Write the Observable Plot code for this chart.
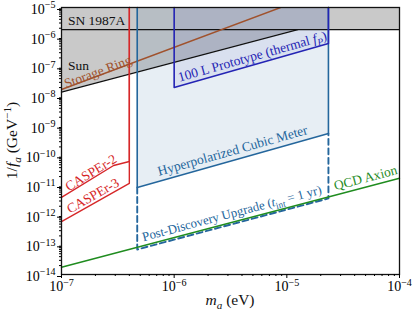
<!DOCTYPE html>
<html><head><meta charset="utf-8">
<script src="https://cdn.jsdelivr.net/npm/d3@7"></script>
<script src="https://cdn.jsdelivr.net/npm/@observablehq/plot@0.6"></script>
<style>body{margin:0;background:#fff}</style>
</head><body><div id="chart"></div>
<script>
// ---- data (m_a in eV, 1/f_a in GeV^-1) ----
const xDomain = [1e-7, 1e-4];
const yDomain = [1e-14, 1e-5];
const snBound = 1.8e-6;
const sunLine = [[1e-7, 1.4e-8], [1.25e-5, 1.8e-6]];
const storageRing = [[1e-7, 1.72e-8], [8.8e-6, 1e-5]];
const casper2 = [[1e-7, 3.95e-12], [2.9e-7, 4.73e-11], [4.0e-7, 6.45e-11], [4.0e-7, 1e-5]];
const casper3 = [[1e-7, 6.1e-13], [4.0e-7, 1.17e-11], [4.0e-7, 1e-5]];
const cubicBottom = [[4.7e-7, 8.6e-12], [2.34e-5, 5.66e-10]];
const upgradeBottom = [[4.7e-7, 6.98e-14], [2.34e-5, 3.66e-12]];
const protoBottom = [[1e-6, 2.0e-8], [2.34e-5, 6.1e-7]];
const qcdLine = [[1e-7, 1.75e-14], [1e-4, 1.75e-11]];
const xTicks = [1e-7, 1e-6, 1e-5, 1e-4];
const yTicks = [1e-14, 1e-13, 1e-12, 1e-11, 1e-10, 1e-9, 1e-8, 1e-7, 1e-6, 1e-5];

const colors = {
  gray: "#c9c9c9", storage: "#a0522d", casper: "#d62728",
  cubic: "#24669c", proto: "#2424b4", qcd: "#1f8c1f"
};

const W = 416, H = 315, mL = 61, mR = 17, mT = 7, mB = 41;
const FS = 13.5;
const sx = Plot.scale({x: {type: "log", domain: xDomain, range: [mL, W - mR]}});
const sy = Plot.scale({y: {type: "log", domain: yDomain, range: [H - mB, mT]}});
const angle = seg => Math.atan2(sy.apply(seg[1][1]) - sy.apply(seg[0][1]), sx.apply(seg[1][0]) - sx.apply(seg[0][0])) * 180 / Math.PI;

const startLabels = [
  {text: "SN 1987A", x: 1.14e-7, y: 3.65e-6, color: "#111"},
  {text: "Sun", x: 1.14e-7, y: 1.11e-7, color: "#111"}
];
const midLabels = [
  {text: "Storage Ring", x: 2.1e-7, y: 6.8e-8, size: FS, color: colors.storage, rotate: angle(storageRing)},
  {text: "CASPEr-2", x: 1.83e-7, y: 2.7e-11, size: FS, color: colors.casper, rotate: angle(casper2.slice(0, 2))},
  {text: "CASPEr-3", x: 1.9e-7, y: 4.5e-12, size: FS, color: colors.casper, rotate: angle(casper3.slice(0, 2))},
  {text: "100 L Prototype (thermal fP)", x: 4.95e-6, y: 2.23e-7, size: FS, color: colors.proto, rotate: angle(protoBottom),
   parts: [["100 L Prototype (thermal ", ""], ["f", "i"], ["P", "isub"], [")", ""]]},
  {text: "Hyperpolarized Cubic Meter", x: 3.3e-6, y: 1.5e-10, size: FS, color: colors.cubic, rotate: angle(cubicBottom)},
  {text: "Post-Discovery Upgrade (tint = 1 yr)", x: 3.25e-6, y: 1.15e-12, size: 12.8, color: colors.cubic, rotate: angle(upgradeBottom),
   parts: [["Post-Discovery Upgrade (", ""], ["t", "i"], ["int", "sub"], [" = 1 yr)", ""]]},
  {text: "QCD Axion", x: 5.0e-5, y: 1.8e-11, size: FS, color: colors.qcd, rotate: angle(qcdLine)}
];

const minor = decades => decades.slice(0, -1).flatMap(d => [2,3,4,5,6,7,8,9].map(k => d * k));
const yTop = () => yDomain[1];
const X = d => d[0], Y = d => d[1];
const box = (bottom) => [[bottom[0][0], yDomain[1]], ...bottom, [bottom[bottom.length-1][0], yDomain[1]]];
const upgradeOutline = [[upgradeBottom[0][0], cubicBottom[0][1]], ...upgradeBottom, [upgradeBottom[1][0], cubicBottom[1][1]]];
const sup = d => "10^" + String(Math.round(Math.log10(d))).replace("-", "\u2212");

const plot = Plot.plot({
  width: W, height: H, marginLeft: mL, marginRight: mR, marginTop: mT, marginBottom: mB,
  x: {type: "log", domain: xDomain},
  y: {type: "log", domain: yDomain},
  style: {fontFamily: "'Liberation Serif', serif", fontSize: "13px", background: "white", overflow: "visible"},
  marks: [
    Plot.areaY(sunLine, {x: X, y1: Y, y2: yTop, fill: colors.gray}),
    Plot.areaY(xDomain, {x: d => d, y1: () => snBound, y2: yTop, fill: colors.gray}),
    Plot.areaY(cubicBottom, {x: X, y1: Y, y2: yTop, fill: colors.cubic, fillOpacity: 0.11}),
    Plot.areaY(protoBottom, {x: X, y1: Y, y2: yTop, fill: colors.proto, fillOpacity: 0.07}),
    Plot.ruleY([snBound], {stroke: "#111", strokeWidth: 1.4}),
    Plot.line(sunLine, {x: X, y: Y, stroke: "#111", strokeWidth: 1.4}),
    Plot.line(storageRing, {x: X, y: Y, stroke: colors.storage, strokeWidth: 1.4, clip: true}),
    Plot.line(casper2, {x: X, y: Y, stroke: colors.casper, strokeWidth: 1.4}),
    Plot.line(casper3, {x: X, y: Y, stroke: colors.casper, strokeWidth: 1.4}),
    Plot.line(box(cubicBottom), {x: X, y: Y, stroke: colors.cubic, strokeWidth: 1.6}),
    Plot.line(upgradeOutline, {x: X, y: Y, stroke: colors.cubic, strokeWidth: 1.9, strokeDasharray: "6,3.5"}),
    Plot.line(box(protoBottom), {x: X, y: Y, stroke: colors.proto, strokeWidth: 1.6}),
    Plot.line(qcdLine, {x: X, y: Y, stroke: colors.qcd, strokeWidth: 1.4}),
    Plot.text(startLabels, {x: "x", y: "y", text: "text", fill: "color", textAnchor: "start", fontSize: FS}),
    Plot.text(midLabels, {x: "x", y: "y", text: "text", fill: "color", rotate: "rotate", fontSize: "size"}),
    Plot.frame({stroke: "#111", strokeWidth: 1.3}),
    Plot.axisX({ticks: xTicks, tickFormat: sup, tickSize: 4, tickPadding: 3, label: null, fontSize: 14}),
    Plot.axisX({ticks: minor(xTicks), tickFormat: () => "", tickSize: 2, label: null}),
    Plot.axisY({ticks: yTicks, tickFormat: sup, tickSize: 4, tickPadding: 2, dy: 2, label: null, fontSize: 14}),
    Plot.axisY({ticks: minor(yTicks), tickFormat: () => "", tickSize: 2, label: null})
  ]
});
document.getElementById("chart").appendChild(plot);

// ---- rich text helpers ----
function rich(el, parts, size) {
  el.textContent = "";
  let shift = 0;
  for (const [s, style] of parts) {
    const t = d3.select(el).append("tspan").text(s);
    if (style.includes("i")) t.attr("font-style", "italic");
    let target = 0;
    if (style.includes("sub")) { target = size * 0.25; t.attr("font-size", size * 0.72); }
    if (style.includes("sup")) { target = -size * 0.4; t.attr("font-size", size * 0.72); }
    if (target - shift) t.attr("dy", target - shift);
    shift = target;
  }
}
const svg = d3.select(plot);
svg.selectAll("text").each(function() {
  const s = this.textContent;
  const m = /^10\^(.+)$/.exec(s);
  if (m) { rich(this, [["10", ""], [m[1], "sup"]], 14); return; }
  const lab = midLabels.find(l => l.parts && l.text === s);
  if (lab) rich(this, lab.parts, lab.size);
});
// axis titles
const cx = (sx.apply(xDomain[0]) + sx.apply(xDomain[1])) / 2;
const cy = (sy.apply(yDomain[0]) + sy.apply(yDomain[1])) / 2;
const xt = svg.append("text").attr("x", cx).attr("y", H - 10).attr("text-anchor", "middle").attr("font-size", 15.5).attr("fill", "#111");
rich(xt.node(), [["m", "i"], ["a", "isub"], [" (eV)", ""]], 15.5);
const yt = svg.append("text").attr("transform", `translate(17,${cy}) rotate(-90)`).attr("text-anchor", "middle").attr("font-size", 15.5).attr("fill", "#111");
rich(yt.node(), [["1/", ""], ["f", "i"], ["a", "isub"], [" (GeV", ""], ["\u22121", "sup"], [")", ""]], 15.5);
</script>
</body></html>
